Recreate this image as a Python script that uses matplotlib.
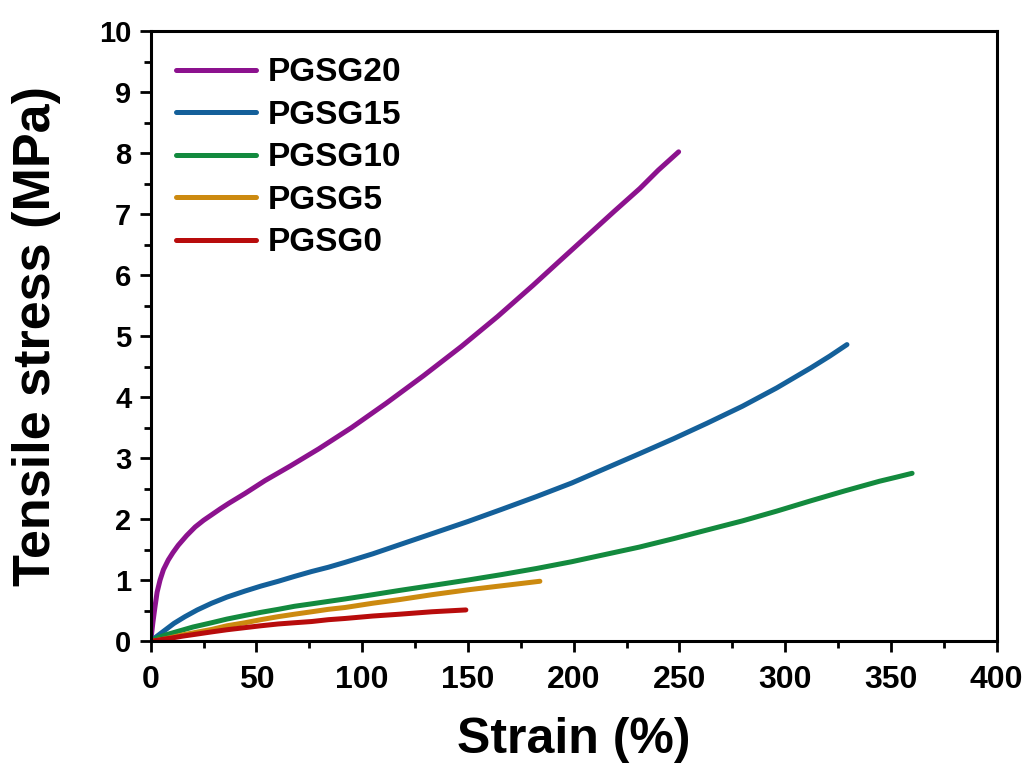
import matplotlib
matplotlib.use("Agg")
import matplotlib.pyplot as plt
from matplotlib.ticker import MultipleLocator

plt.rcParams['font.family'] = ['Liberation Sans', 'DejaVu Sans']
plt.rcParams['font.weight'] = 'bold'

# Stress-strain curves (strain in %, stress in MPa)
strain_pgsg20 = [0, 1, 2, 3, 4.4, 6, 8.3, 10.5, 13, 17, 21, 25, 28.8, 33, 37, 44.6, 54,
                 66, 79.4, 95, 111.4, 129, 146.9, 164, 180.7, 193, 206, 219, 231.3, 240,
                 249.6]
stress_pgsg20 = [0, 0.30, 0.56, 0.80, 1.00, 1.17, 1.33, 1.45, 1.57, 1.73, 1.87, 1.98,
                 2.07, 2.17, 2.26, 2.42, 2.63, 2.87, 3.15, 3.50, 3.90, 4.35, 4.83, 5.32,
                 5.83, 6.22, 6.63, 7.04, 7.42, 7.72, 8.02]

strain_pgsg15 = [0, 3, 6.8, 11, 16.2, 22, 28.8, 36, 44.6, 52, 60.3, 68, 76.1, 84, 91.9,
                 105, 117.7, 133, 150, 166, 182.5, 199, 215, 231, 247.4, 263, 279.8, 296,
                 312.2, 321, 329.2]
stress_pgsg15 = [0, 0.08, 0.18, 0.29, 0.40, 0.51, 0.62, 0.72, 0.82, 0.90, 0.98, 1.06,
                 1.14, 1.21, 1.29, 1.43, 1.58, 1.76, 1.96, 2.16, 2.37, 2.59, 2.83, 3.07,
                 3.32, 3.57, 3.85, 4.15, 4.48, 4.67, 4.86]

strain_pgsg10 = [0, 3, 7, 13, 20, 28.8, 36, 44.6, 52, 60.3, 68, 76.1, 84, 91.9, 105,
                 117.7, 133, 150, 166, 182.5, 199, 215, 231, 247.4, 263, 279.8, 296,
                 312.2, 328, 344.6, 353, 360]
stress_pgsg10 = [0, 0.05, 0.10, 0.16, 0.23, 0.30, 0.36, 0.42, 0.47, 0.52, 0.57, 0.61,
                 0.65, 0.69, 0.76, 0.83, 0.91, 1.00, 1.09, 1.19, 1.30, 1.42, 1.54, 1.68,
                 1.82, 1.97, 2.13, 2.30, 2.46, 2.62, 2.69, 2.75]

strain_pgsg5 = [0, 3, 6, 10, 15, 21, 28.8, 36, 44.6, 52, 60.3, 68, 76.1, 84, 91.9, 105,
                117.7, 133, 150, 167, 184]
stress_pgsg5 = [0, 0.01, 0.03, 0.06, 0.10, 0.14, 0.19, 0.25, 0.30, 0.35, 0.40, 0.44,
                0.48, 0.52, 0.55, 0.62, 0.68, 0.76, 0.84, 0.91, 0.98]

strain_pgsg0 = [0, 3, 6, 10, 15, 21, 28.8, 36, 44.6, 52, 60.3, 68, 76.1, 84, 91.9, 105,
                117.7, 133, 149]
stress_pgsg0 = [0, 0.01, 0.03, 0.05, 0.08, 0.11, 0.15, 0.185, 0.22, 0.25, 0.28, 0.30,
                0.32, 0.35, 0.37, 0.41, 0.44, 0.48, 0.51]

labels = ['PGSG20', 'PGSG15', 'PGSG10', 'PGSG5', 'PGSG0']
colors = ['#8C128E', '#14609A', '#138A3E', '#CC8A10', '#B80C0C']

series = [(strain_pgsg20, stress_pgsg20), (strain_pgsg15, stress_pgsg15),
          (strain_pgsg10, stress_pgsg10), (strain_pgsg5, stress_pgsg5),
          (strain_pgsg0, stress_pgsg0)]

fig = plt.figure(figsize=(10.29, 7.69), dpi=100)
ax = fig.add_axes([0.1465, 0.1664, 0.8221, 0.7932])

for i, ((sx, sy), lab, col) in enumerate(zip(series, labels, colors)):
    ax.plot(sx, sy, color=col, lw=3.6, label=lab, solid_capstyle='round',
            solid_joinstyle='round', zorder=2 + i * 0.1)

ax.set_xlim(0, 400)
ax.set_ylim(0, 10)
ax.xaxis.set_major_locator(MultipleLocator(50))
ax.xaxis.set_minor_locator(MultipleLocator(25))
ax.yaxis.set_major_locator(MultipleLocator(1))
ax.yaxis.set_minor_locator(MultipleLocator(0.5))

for sp in ax.spines.values():
    sp.set_linewidth(2.2)

ax.tick_params(which='both', direction='out', top=False, right=False, width=2.0)
ax.tick_params(which='major', length=8)
ax.tick_params(which='minor', length=5)
ax.tick_params(axis='x', which='major', labelsize=23, pad=9)
ax.tick_params(axis='y', which='major', labelsize=21, pad=6)
for t in ax.get_xticklabels() + ax.get_yticklabels():
    t.set_fontweight('bold')

ax.set_xlabel('Strain (%)', fontsize=36, fontweight='bold', labelpad=16)
ax.set_ylabel('Tensile stress (MPa)', fontsize=37.5, fontweight='bold', labelpad=27)

leg = ax.legend(loc='upper left', bbox_to_anchor=(0.03, 0.957), frameon=False,
                prop={'size': 24, 'weight': 'bold'}, handlelength=2.4,
                handletextpad=0.35, labelspacing=0.345, borderaxespad=0, borderpad=0)
for h in leg.get_lines():
    h.set_linewidth(3.6)
    h.set_solid_capstyle('round')

fig.savefig('out.png', dpi=100)
